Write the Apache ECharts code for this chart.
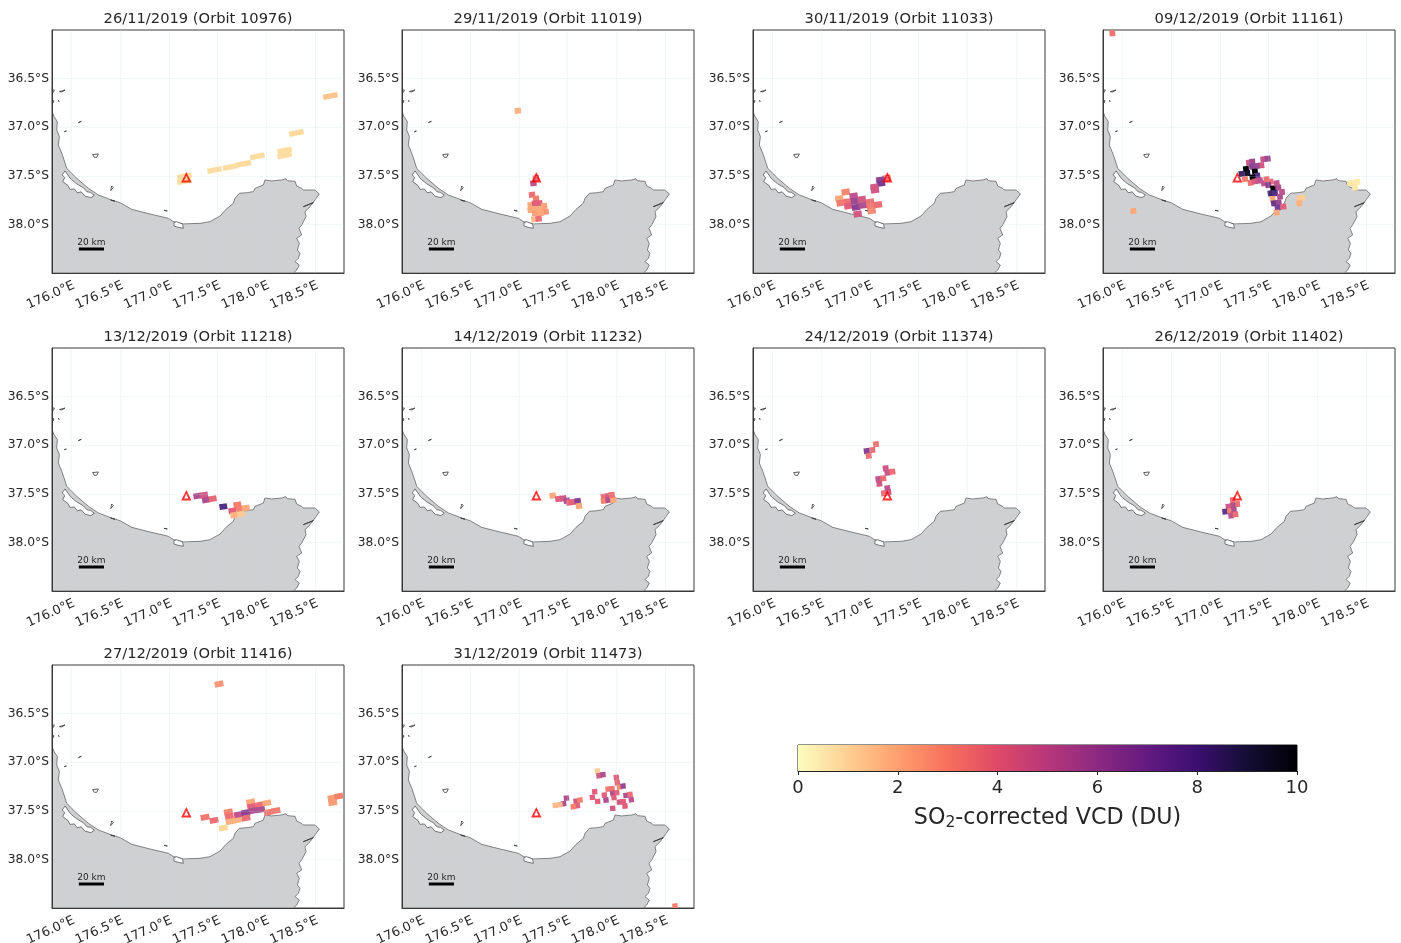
<!DOCTYPE html>
<html><head><meta charset="utf-8">
<style>html,body{margin:0;padding:0;background:#fff}#c{width:1401px;height:943px}</style>
<script src="https://cdn.jsdelivr.net/npm/echarts@6/dist/echarts.min.js"></script>
</head><body><div id="c"></div>
<script>
const titles = ['26/11/2019 (Orbit 10976)','29/11/2019 (Orbit 11019)','30/11/2019 (Orbit 11033)','09/12/2019 (Orbit 11161)',
  '13/12/2019 (Orbit 11218)','14/12/2019 (Orbit 11232)','24/12/2019 (Orbit 11374)','26/12/2019 (Orbit 11402)',
  '27/12/2019 (Orbit 11416)','31/12/2019 (Orbit 11473)'];
const lonTicks = [176,176.5,177,177.5,178,178.5];
const latTicks = [-38,-37.5,-37,-36.5];
const volcano = [177.18,-37.52];
const barTicks = [0,2,4,6,8,10];
const magmaR = ['#fcfdbf','#fecf92','#fe9f6d','#f7705c','#de4968','#b73779','#8c2981','#641a80','#3b0f70','#140e36','#000004'];
const magmaSoft = ['#fcf6b4','#fcd79c','#fda97c','#f6806e','#e2607d','#c2558f','#9c4b93','#783c92','#532f85','#2a2352','#000004'];

const coast = [[175.797,-36.83],[175.821,-36.891],[175.855,-36.943],[175.848,-37.028],[175.876,-37.097],[175.865,-37.183],[175.9,-37.268],[175.924,-37.337],[175.951,-37.423],[176.054,-37.526],[176.174,-37.629],[176.276,-37.697],[176.413,-37.749],[176.499,-37.776],[176.619,-37.845],[176.807,-37.893],[176.995,-37.937],[177.047,-37.971],[177.15,-37.995],[177.321,-37.989],[177.423,-37.972],[177.526,-37.914],[177.588,-37.845],[177.663,-37.783],[177.68,-37.732],[177.725,-37.68],[177.8,-37.674],[177.869,-37.663],[177.886,-37.629],[177.971,-37.595],[177.988,-37.543],[178.057,-37.553],[178.16,-37.543],[178.204,-37.53],[178.218,-37.55],[178.297,-37.557],[178.314,-37.605],[178.365,-37.629],[178.382,-37.646],[178.502,-37.646],[178.547,-37.687],[178.502,-37.749],[178.451,-37.818],[178.399,-37.869],[178.41,-37.92],[178.365,-38.006],[178.338,-38.04],[178.365,-38.109],[178.314,-38.143],[178.341,-38.195],[178.321,-38.263],[178.348,-38.298],[178.331,-38.349],[178.297,-38.383],[178.341,-38.418],[178.314,-38.47],[178.28,-38.5],[175.8,-38.5]];
const lagoon = [[175.935,-37.45],[175.905,-37.49],[175.93,-37.52],[175.91,-37.56],[175.965,-37.6],[175.985,-37.64],[176.03,-37.635],[176.06,-37.675],[176.1,-37.665],[176.14,-37.71],[176.2,-37.725],[176.235,-37.7],[176.195,-37.67],[176.16,-37.665],[176.125,-37.625],[176.05,-37.58],[175.99,-37.53]];
const ohiwa = [[177.053,-37.982],[177.08,-37.972],[177.142,-37.996],[177.149,-38.04],[177.097,-38.03],[177.053,-38.016]];
const isles = [
  [[176.218,-37.282],[176.276,-37.275],[176.259,-37.31],[176.235,-37.31]],
  [[176.413,-37.605],[176.43,-37.622],[176.403,-37.653]],
  [[176.071,-36.953],[176.102,-36.939]],
  [[175.927,-37.046],[175.948,-37.039]],
  [[175.802,-36.617],[175.824,-36.617],[175.814,-36.641],[175.802,-36.634]],
  [[175.876,-36.634],[175.934,-36.617],[175.903,-36.637]],
  [[175.802,-36.727],[175.82,-36.727],[175.814,-36.747]],
  [[175.862,-36.727],[175.876,-36.733]],
  [[176.951,-37.855],[176.985,-37.862]],
  [[176.403,-37.749],[176.447,-37.762]],
  [[178.382,-37.818],[178.485,-37.776]]
];
const scaleBar = [176.076,176.334,-38.253];

const p1 = [[177.16,-37.505,0.8],[177.16,-37.555,0.8],[177.47,-37.44,0.8],[177.63,-37.41,0.8],[177.77,-37.375,0.9],[177.91,-37.30,0.8],[178.19,-37.24,0.8],[178.19,-37.29,0.8],[178.31,-37.06,0.9],[178.66,-36.68,1.4]];
const p2 = [[177.177,-37.526,3.6],[177.15,-37.577,5],[177.136,-37.694,3.5],[177.177,-37.735,3],[177.122,-37.8,2],[177.167,-37.783,4],[177.211,-37.783,4],[177.259,-37.811,2.2],[177.122,-37.852,2],[177.177,-37.842,2],[177.232,-37.842,2],[177.276,-37.869,2.5],[177.167,-37.886,2.2],[177.225,-37.886,2],[177.16,-37.948,1.6],[177.204,-37.941,3.5],[176.99,-36.83,1.8]];
const p3 = [[177.173,-37.526,3.5],[177.108,-37.543,6.3],[177.115,-37.577,7],[177.047,-37.615,4.5],[177.053,-37.646,4.5],[176.752,-37.667,2.8],[176.687,-37.735,2],[176.701,-37.78,3.2],[176.779,-37.766,3.5],[176.779,-37.811,4],[176.834,-37.708,5],[176.848,-37.759,6],[176.858,-37.824,6.5],[176.917,-37.742,4.5],[176.927,-37.804,5.5],[176.875,-37.893,4.5],[177.002,-37.769,3.5],[177.009,-37.81,3.2],[177.019,-37.859,2.8],[177.084,-37.797,3.5]];
const p4 = [[175.896,-36.034,3.3],[176.111,-37.862,2],[177.447,-37.33,5],[177.492,-37.324,6],[177.3,-37.365,4.5],[177.334,-37.354,6],[177.427,-37.392,4.5],[177.379,-37.399,6],[177.331,-37.406,6.5],[177.269,-37.43,10],[177.224,-37.481,8.5],[177.283,-37.474,9.5],[177.361,-37.457,10],[177.385,-37.498,8],[177.337,-37.516,10],[177.399,-37.543,6],[177.259,-37.533,3],[177.317,-37.571,3.5],[177.361,-37.557,4.5],[177.413,-37.55,5],[177.454,-37.577,5],[177.481,-37.536,3.5],[177.522,-37.56,3.5],[177.498,-37.595,6.5],[177.55,-37.629,10],[177.584,-37.577,5],[177.601,-37.622,5.5],[177.522,-37.68,8.5],[177.567,-37.68,8],[177.639,-37.667,5],[177.618,-37.715,5.5],[177.543,-37.739,2],[177.557,-37.783,7.5],[177.605,-37.776,6],[177.594,-37.828,7],[177.653,-37.817,4],[177.584,-37.879,2],[177.82,-37.732,1.3],[177.848,-37.725,1.2],[177.817,-37.783,1.8],[178.337,-37.577,0.5],[178.389,-37.57,0.4],[178.413,-37.564,0.4],[178.389,-37.622,0.5]];
const p5 = [[177.293,-37.523,5.5],[177.362,-37.512,4.5],[177.382,-37.564,5.5],[177.451,-37.55,3.7],[177.56,-37.632,8],[177.704,-37.612,3],[177.653,-37.674,4],[177.731,-37.656,3],[177.79,-37.646,2],[177.673,-37.718,1.8],[177.742,-37.708,1.3]];
const p6 = [[177.348,-37.519,2],[177.406,-37.553,4],[177.457,-37.547,4.5],[177.492,-37.571,5.5],[177.519,-37.591,3.8],[177.56,-37.584,4],[177.605,-37.574,6.5],[177.618,-37.625,2],[177.875,-37.529,3.5],[177.923,-37.523,4.5],[177.875,-37.571,3],[177.923,-37.564,5.5],[177.971,-37.564,2],[177.954,-37.512,3.5]];
const p7 = [[177.064,-36.991,3.3],[177.026,-37.049,3.5],[176.968,-37.06,6.5],[176.989,-37.108,3.5],[177.163,-37.238,4.5],[177.181,-37.283,4.8],[177.232,-37.272,3.5],[177.088,-37.348,5],[177.139,-37.341,3.5],[177.098,-37.396,4.5],[177.181,-37.444,5],[177.146,-37.495,3.5],[177.191,-37.485,4.5]];
const p8 = [[177.132,-37.564,3.5],[177.18,-37.605,3.5],[177.132,-37.622,5.5],[177.088,-37.632,4.5],[177.053,-37.684,7.5],[177.105,-37.677,3],[177.146,-37.667,5.5],[177.115,-37.725,5],[177.163,-37.711,3.5]];
const p9 = [[177.372,-37.567,3.2],[177.465,-37.598,3.5],[177.612,-37.512,3],[177.622,-37.56,3.5],[177.629,-37.611,1.8],[177.704,-37.594,1.8],[177.715,-37.539,5],[177.79,-37.519,6.5],[177.793,-37.574,3.5],[177.841,-37.409,2],[177.851,-37.457,4],[177.927,-37.44,3.5],[178.006,-37.419,2],[177.869,-37.498,5.5],[177.944,-37.488,5.5],[178.023,-37.515,3.2],[178.101,-37.498,3.2],[177.56,-37.677,1],[178.677,-37.368,2.3],[178.745,-37.351,3],[178.684,-37.416,2.3],[177.516,-36.195,2.5]];
const p10 = [[177.807,-37.091,1.2],[177.824,-37.139,4.5],[177.865,-37.129,5.5],[178.002,-37.156,4],[178.012,-37.211,3.8],[178.033,-37.256,2.5],[178.071,-37.245,6],[177.917,-37.276,3.2],[177.958,-37.273,3.3],[177.965,-37.321,5.5],[178.006,-37.314,4],[177.78,-37.304,4],[177.756,-37.362,4],[177.81,-37.403,4],[177.879,-37.338,4],[177.896,-37.389,5.5],[177.978,-37.365,4],[178.033,-37.41,4.5],[178.074,-37.406,4],[178.091,-37.451,4],[178.101,-37.341,5.5],[178.143,-37.331,3.5],[178.156,-37.386,5],[177.965,-37.475,4.5],[177.489,-37.369,5.5],[177.461,-37.427,5.5],[177.588,-37.4,4.5],[177.629,-37.389,3],[177.602,-37.448,4],[177.56,-37.458,3],[177.423,-37.437,1.6],[177.375,-37.444,1.6],[178.605,-38.48,3]];
const panels = [p1,p2,p3,p4,p5,p6,p7,p8,p9,p10];
const footprints = [[.15,.055,11],[.065,.06,7],[.085,.065,8],[.06,.06,6],[.08,.06,9],[.065,.06,8],[.06,.06,7],[.055,.06,6],[.09,.06,11],[.055,.055,6]];

const colLeft = [52,402,753,1103], rowTop = [30,348,665];
const FONT = '"DejaVu Sans"', INK = '#262626';
const grids=[],xAxes=[],yAxes=[],series=[],graphicTitles=[],pixelSeries=[];

function polySeries(i, polys, fill, stroke, lw, z){
  return {type:'custom',xAxisIndex:i,yAxisIndex:i,coordinateSystem:'cartesian2d',clip:true,z:z,silent:true,
    data:polys.map((_,k)=>[polys[k][0][0],polys[k][0][1],k]),
    renderItem:(p,api)=>{
      const pts=polys[api.value(2)].map(c=>api.coord(c));
      return {type:'polygon',shape:{points:pts},style:{fill:fill,stroke:stroke,lineWidth:lw}};
    }};
}

titles.forEach((t,i)=>{
  const left=colLeft[i%4], top=rowTop[Math.floor(i/4)];
  grids.push({left:left,top:top,width:292,height:243,outerBoundsMode:'none',show:true,backgroundColor:'#fff',borderColor:'#3a3a3a',borderWidth:1});
  xAxes.push({type:'value',gridIndex:i,min:175.8,max:178.8,z:10,
    axisLine:{show:true,onZero:false,lineStyle:{color:'#3a3a3a',width:1}},
    axisTick:{show:false,customValues:lonTicks},
    splitLine:{show:true,lineStyle:{color:'rgba(190,215,215,0.2)',width:1}},
    axisLabel:{customValues:lonTicks,rotate:24,align:'right',verticalAlign:'top',margin:6,color:INK,fontFamily:FONT,fontSize:12.8,
      hideOverlap:false,showMinLabel:true,showMaxLabel:true,formatter:v=>v.toFixed(1)+'°E'}});
  yAxes.push({type:'value',gridIndex:i,min:-38.5,max:-36,z:10,
    axisLine:{show:true,onZero:false,lineStyle:{color:'#3a3a3a',width:1}},
    axisTick:{show:false,customValues:latTicks},
    splitLine:{show:true,lineStyle:{color:'rgba(190,215,215,0.2)',width:1}},
    axisLabel:{customValues:latTicks,margin:3,color:INK,fontFamily:FONT,fontSize:12.3,formatter:v=>Math.abs(v).toFixed(1)+'°S'}});
  series.push(polySeries(i,[coast],'#cfd0d2','#555',0.7,1));
  series.push(polySeries(i,[lagoon,ohiwa],'#fff','#444',0.7,2));
  series.push(polySeries(i,isles,'#fff','#333',0.8,2));
  const fp=footprints[i];
  pixelSeries.push(series.length);
  series.push({type:'custom',xAxisIndex:i,yAxisIndex:i,coordinateSystem:'cartesian2d',clip:true,z:3,silent:true,
    dimensions:['lon','lat','vcd'],encode:{x:0,y:1},data:panels[i],
    renderItem:(p,api)=>{
      const a=fp[2]*Math.PI/180, lo=api.value(0), la=api.value(1), w=fp[0]/2, h=fp[1]/2, c=Math.cos(a), s=Math.sin(a);
      const pts=[[-w,-h],[w,-h],[w,h],[-w,h]].map(q=>api.coord([lo+q[0]*c-q[1]*s, la+q[0]*s+q[1]*c]));
      return {type:'polygon',shape:{points:pts},style:{fill:api.visual('color')}};
    }});
  series.push({type:'scatter',xAxisIndex:i,yAxisIndex:i,symbol:'triangle',symbolSize:7.5,z:4,silent:true,data:[volcano],
    itemStyle:{color:'rgba(255,255,255,0)',borderColor:'#ff0000',borderWidth:1.8}});
  series.push({type:'custom',xAxisIndex:i,yAxisIndex:i,coordinateSystem:'cartesian2d',clip:false,z:4,silent:true,data:[scaleBar],
    renderItem:(p,api)=>{
      const a=api.coord([api.value(0),api.value(2)]), b=api.coord([api.value(1),api.value(2)]);
      return {type:'group',children:[
        {type:'line',shape:{x1:a[0],y1:a[1],x2:b[0],y2:b[1]},style:{stroke:'#000',lineWidth:3}},
        {type:'text',style:{x:(a[0]+b[0])/2,y:a[1]-2,text:'20 km',textAlign:'center',textVerticalAlign:'bottom',font:'9px "DejaVu Sans"',fill:INK}}
      ]};
    }});
  graphicTitles.push({left:left+146,top:top-18,padding:0,textAlign:'center',text:t,
    textStyle:{fontFamily:FONT,fontSize:14.7,fontWeight:'normal',color:INK}});
});

const bi=titles.length;
grids.push({left:798,top:745,width:499,height:26,outerBoundsMode:'none',show:true,borderColor:'#222',borderWidth:1});
xAxes.push({type:'value',gridIndex:bi,min:0,max:10,interval:2,z:10,
  axisLine:{show:true,onZero:false,lineStyle:{color:'#222'}},axisTick:{show:true,length:4,lineStyle:{color:'#222'}},splitLine:{show:false},
  axisLabel:{margin:8,color:INK,fontFamily:FONT,fontSize:18,customValues:barTicks,formatter:v=>String(v)},
  name:'{n|SO}{s|2}{n|-corrected VCD (DU)}',nameLocation:'middle',nameGap:34,
  nameTextStyle:{rich:{n:{fontFamily:FONT,fontSize:22.2,color:INK},s:{fontFamily:FONT,fontSize:15.5,color:INK,padding:[10,0,0,0]}}}});
yAxes.push({type:'value',gridIndex:bi,min:0,max:1,show:false,splitLine:{show:false}});
series.push({type:'custom',xAxisIndex:bi,yAxisIndex:bi,coordinateSystem:'cartesian2d',silent:true,z:3,data:[[0,10]],
  renderItem:(p,api)=>{
    const a=api.coord([api.value(0),1]), b=api.coord([api.value(1),0]);
    return {type:'rect',shape:{x:a[0],y:a[1],width:b[0]-a[0],height:b[1]-a[1]},
      style:{fill:new echarts.graphic.LinearGradient(0,0,1,0,magmaR.map((c,k)=>({offset:k/(magmaR.length-1),color:c})))}};
  }});

const chart=echarts.init(document.getElementById('c'),null,{renderer:'canvas'});
chart.setOption({animation:false,backgroundColor:'#fff',title:graphicTitles,grid:grids,xAxis:xAxes,yAxis:yAxes,series:series,
  visualMap:{type:'continuous',show:false,min:0,max:10,dimension:2,seriesIndex:pixelSeries,inRange:{color:magmaSoft}}});
</script></body></html>
